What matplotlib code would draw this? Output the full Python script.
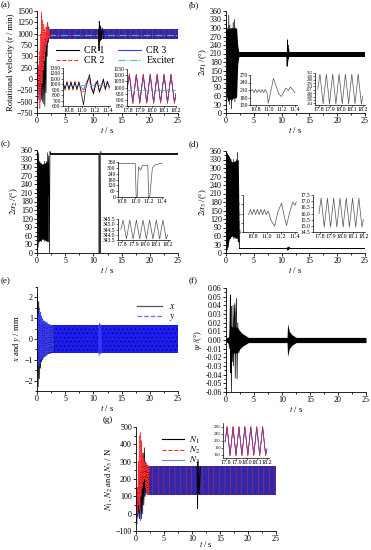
import matplotlib
matplotlib.use("Agg")
import matplotlib.pyplot as plt
from matplotlib.ticker import MultipleLocator, AutoMinorLocator, FormatStrFormatter

plt.rcParams["font.family"] = ["Liberation Serif", "DejaVu Serif"]
plt.rcParams["mathtext.fontset"] = "stix"
plt.rcParams["hatch.linewidth"] = 0.3
plt.rcParams["axes.linewidth"] = 0.6

# ---------------- data ----------------
TRANS_T = [0.0, 0.1, 0.2, 0.3, 0.4, 0.5, 0.6, 0.7, 0.8, 0.9, 1.0, 1.1, 1.2,
           1.3, 1.4, 1.5, 1.6, 1.7, 1.8, 1.9, 2.0, 2.1, 2.2, 2.3, 2.4]
BAND_T = [2.3, 25.0]
SS_T = [17.79, 17.81, 17.839, 17.868, 17.897, 17.926, 17.955, 17.984,
        18.013, 18.042, 18.071, 18.10, 18.129, 18.158, 18.187, 18.2]

# (a) rotational velocity
A_CR1 = [0, 150, -200, 300, -350, 200, -300, 500, -450, 600, -500, 700, -550,
         800, -600, 900, -300, 1050, 500, 1250, 800, 1150, 900, 1080, 950]
A_CR2 = [0, -200, 300, -450, 600, -650, 1000, -300, 1470, -100, 1300, 200, 1200,
         400, 1100, 600, 1150, 750, 1200, 850, 1100, 900, 1080, 920, 1000]
A_CR3 = [0, 200, -300, 250, -400, 450, -500, 700, -350, 900, -200, 850, 0,
         950, 200, 1000, 500, 1100, 700, 1050, 850, 1100, 900, 1050, 950]
A_BAND_LO = [880, 880]
A_BAND_HI = [1110, 1110]
A_EXC_T = [0, 25]
A_EXC = [980, 980]
A_SPK_T = [10.9, 10.95, 11.0, 11.05, 11.1, 11.15, 11.2, 11.3, 11.4, 11.6, 11.8]
A_SPK_CR1 = [1100, 880, 620, 1270, 800, 1180, 850, 1150, 870, 1120, 890]
A_IN1_T = [10.72, 10.75, 10.78, 10.81, 10.84, 10.87, 10.90, 10.93, 10.96, 10.99,
           11.03, 11.06, 11.09, 11.12, 11.15, 11.18, 11.21, 11.24, 11.27, 11.30,
           11.33, 11.36, 11.39, 11.42]
A_IN1_CR1 = [1040, 910, 1040, 910, 1040, 910, 1040, 910, 1040, 880, 620, 900,
             1050, 1180, 950, 820, 980, 1070, 850, 950, 1100, 900, 1060, 940]
A_IN1_CR2 = [1060, 890, 1060, 890, 1060, 890, 1060, 890, 1050, 900, 850, 1000,
             1080, 1050, 900, 880, 1040, 1000, 880, 1000, 1080, 920, 1050, 900]
A_IN1_CR3 = [1010, 930, 1010, 930, 1010, 930, 1010, 930, 1000, 950, 900, 980,
             1060, 1120, 930, 860, 1000, 1040, 870, 970, 1080, 930, 1040, 960]
A_IN2_CR1 = [990, 1105, 875, 1105, 875, 1105, 875, 1105, 875, 1105, 875, 1105, 875, 1105, 875, 950]
A_IN2_CR2 = [990, 1110, 870, 1110, 870, 1110, 870, 1110, 870, 1110, 870, 1110, 870, 1110, 870, 950]
A_IN2_CR3 = [985, 1100, 880, 1100, 880, 1100, 880, 1100, 880, 1100, 880, 1100, 880, 1100, 880, 955]
A_IN_EXC = [980, 980]

# (b) 2 alpha_1
B_TR = [200, 330, 60, 300, 40, 345, 30, 310, 50, 290, 15, 300, 45, 320, 60,
        330, 40, 300, 100, 260, 160, 230, 190, 215, 205]
B_ENV_T = [0.1, 0.3, 1.0, 1.9, 2.1, 2.3]
B_ENV_LO = [60, 45, 50, 55, 170, 198]
B_ENV_HI = [290, 300, 300, 300, 240, 214]
B_BAND_LO = [198, 198]
B_BAND_HI = [214, 214]
B_SPK_T = [10.95, 11.0, 11.05, 11.1, 11.15, 11.2, 11.3, 11.4, 11.5]
B_SPK = [214, 165, 258, 180, 240, 190, 225, 198, 214]
B_IN1_T = [10.72, 10.745, 10.77, 10.795, 10.82, 10.845, 10.87, 10.895, 10.92,
           10.945, 10.97, 10.99, 11.07, 11.15, 11.19, 11.26, 11.30, 11.33, 11.40]
B_IN1 = [205, 212, 200, 212, 200, 212, 200, 212, 200, 212, 200, 157, 256, 195,
         184, 218, 208, 222, 199]
B_IN2 = [255, 308, 202, 308, 202, 308, 202, 308, 202, 308, 202, 308, 202, 308, 202, 230]

# (c) 2 alpha_2
C_TR = [0, 355, 20, 350, 60, 320, 45, 310, 40, 300, 50, 310, 45, 320, 40, 300,
        60, 320, 40, 350, 200, 340, 0, 355, 345]
C_ENV_T = [0.15, 0.3, 1.0, 1.9, 2.0]
C_ENV_LO = [30, 40, 50, 40, 40]
C_ENV_HI = [355, 320, 310, 320, 340]
C_LINE_T = [2.4, 25.0]
C_LINE = [345, 345]
C_SPK_T = [10.98, 11.02, 11.05, 11.1, 11.2, 11.23, 11.3, 11.4]
C_SPK = [345, 0, 345, 330, 0, 345, 355, 345]
C_IN1_T = [10.74, 11.0, 11.015, 11.03, 11.05, 11.08, 11.11, 11.19, 11.205,
           11.22, 11.26, 11.3, 11.41]
C_IN1 = [345, 345, 0, 0, 310, 275, 325, 325, 0, 0, 300, 330, 350]
C_IN2 = [344.5, 345.4, 343.6, 345.4, 343.6, 345.4, 343.6, 345.4, 343.6,
         345.4, 343.6, 345.4, 343.6, 345.4, 343.6, 344.0]

# (d) 2 alpha_3
D_TR = [0, 355, 10, 350, 20, 340, 60, 320, 50, 330, 60, 320, 70, 330, 50, 320,
        60, 300, 50, 330, 80, 355, 40, 100, 16]
D_ENV_T = [0.1, 0.6, 1.0, 2.2, 2.4]
D_ENV_LO = [10, 50, 60, 50, 15]
D_ENV_HI = [355, 340, 320, 330, 18]
D_BAND_LO = [15, 15]
D_BAND_HI = [17.5, 17.5]
D_SPK_T = [10.95, 11.05, 11.15, 11.25, 11.35, 11.5]
D_SPK = [17, 10, 21, 11, 21, 17]
D_IN1_T = [10.74, 10.765, 10.79, 10.815, 10.84, 10.865, 10.89, 10.915, 10.94,
           10.965, 10.99, 11.02, 11.06, 11.11, 11.16, 11.21, 11.24, 11.28,
           11.33, 11.37, 11.40, 11.42]
D_IN1 = [15.5, 17.8, 15.5, 17.8, 15.5, 17.8, 15.5, 17.8, 15.5, 17.8, 15.5,
         17.0, 13.0, 10.5, 17.0, 20.5, 16.0, 10.8, 17.0, 21.0, 19.5, 21.0]
D_IN2 = [16.0, 17.25, 14.9, 17.25, 14.9, 17.25, 14.9, 17.25, 14.9, 17.25,
         14.9, 17.25, 14.9, 17.25, 14.9, 15.5]

# (e) x and y
E_TR_T = [0.0, 0.1, 0.2, 0.3, 0.4, 0.5, 0.6, 0.7, 0.8, 0.9, 1.0, 1.1, 1.2, 1.3,
          1.4, 1.5, 1.6, 1.7, 1.8, 1.9, 2.0, 2.1, 2.2, 2.3, 2.4, 2.5, 2.6, 2.7,
          2.8, 2.9, 3.0]
E_X = [0, 2.2, -2.3, 1.8, -1.9, 1.2, -1.4, 1.0, -1.1, 0.9, -1.0, 0.85, -0.9,
       0.8, -0.85, 0.75, -0.8, 0.75, -0.75, 0.7, -0.7, 0.7, -0.7, 0.68, -0.68,
       0.66, -0.66, 0.65, -0.65, 0.65, -0.65]
E_Y = [0, -1.0, 1.2, -1.3, 1.5, -1.2, 1.3, -1.0, 1.1, -0.95, 1.0, -0.9, 0.9,
       -0.85, 0.85, -0.8, 0.8, -0.75, 0.78, -0.72, 0.72, -0.7, 0.7, -0.68, 0.68,
       -0.66, 0.66, -0.65, 0.65, -0.65, 0.65]
E_BAND_T = [0.1, 25.0]
E_BAND_LO = [-0.65, -0.65]
E_BAND_HI = [0.65, 0.65]
E_SPK_T = [10.9, 11.0, 11.1, 11.2, 11.3, 11.5]
E_SPK = [0.65, -0.78, 0.75, -0.72, 0.7, -0.66]

# (f) psi
F_TR_T = [0.5, 0.6, 0.7, 0.78, 0.85, 0.9, 0.96, 1.05, 1.15, 1.26, 1.35, 1.45,
          1.56, 1.65, 1.75, 1.86, 1.98, 2.1, 2.3, 2.5]
F_TR = [0, -0.01, 0.02, 0.052, -0.038, 0.039, -0.06, 0.015, -0.025, 0.04,
        -0.03, 0.025, 0.042, -0.044, 0.03, 0.048, -0.045, 0.02, -0.015, 0.01]
F_ENV_T = [0.0, 0.5, 0.8, 1.2, 2.0, 2.5, 3.0, 4.0, 25.0]
F_ENV_HI = [0.002, 0.004, 0.015, 0.015, 0.015, 0.01, 0.007, 0.003, 0.003]
F_ENV_LO = [-0.002, -0.004, -0.015, -0.015, -0.015, -0.01, -0.007, -0.003, -0.003]
F_SPK_T = [10.9, 11.0, 11.3, 11.8, 12.5]
F_SPK_HI = [0.003, 0.019, 0.01, 0.006, 0.003]
F_SPK_LO = [-0.003, -0.019, -0.01, -0.006, -0.003]

# (g) N1, N2, N3
G_N1 = [40, 100, -20, 150, 0, 200, -30, 250, 20, 300, -30, 330, 0, 350, 50,
        380, 100, 300, 120, 290, 110, 280, 110, 275, 120]
G_N2 = [50, -40, 150, 0, 300, 50, 450, 20, 470, 100, 420, 150, 350, 180, 320,
        200, 300, 150, 290, 120, 280, 115, 275, 110, 275]
G_N3 = [30, 80, -60, 120, -20, 180, 0, 220, -40, 250, 0, 280, 50, 320, 80,
        350, 100, 290, 110, 280, 115, 275, 110, 270, 120]
G_BAND_LO = [110, 110]
G_BAND_HI = [275, 275]
G_SPK_T = [10.9, 10.95, 11.0, 11.05, 11.1, 11.2, 11.3, 11.5]
G_SPK_N1 = [275, 110, 30, 300, 120, 270, 115, 270]
G_IN_N1 = [195, 278, 115, 278, 115, 278, 115, 278, 115, 278, 115, 278, 115, 278, 115, 150]
G_IN_N2 = [195, 280, 112, 280, 112, 280, 112, 280, 112, 280, 112, 280, 112, 280, 112, 150]
G_IN_N3 = [190, 276, 118, 276, 118, 276, 118, 276, 118, 276, 118, 276, 118, 276, 118, 152]

BLACK = "black"
RED = "#ff2a2a"
BLUE = "#3a3aff"
CYAN = "#3fbfbf"
GREY = "#555555"
TICK_FS = 5.8
LABEL_FS = 6.2

W, H = 371, 550
fig = plt.figure(figsize=(W / 100, H / 100), dpi=100)


def rect(x0, y0, x1, y1):
    return [x0 / W, 1 - y1 / H, (x1 - x0) / W, (y1 - y0) / H]


def main_axes(x0, y0, x1, y1, ylim, ystep, ylabel, fmt=None):
    ax = fig.add_axes(rect(x0, y0, x1, y1))
    ax.set_xlim(0, 25)
    ax.set_ylim(*ylim)
    ax.xaxis.set_major_locator(MultipleLocator(5))
    ax.xaxis.set_minor_locator(AutoMinorLocator(2))
    ax.yaxis.set_major_locator(MultipleLocator(ystep))
    ax.yaxis.set_minor_locator(AutoMinorLocator(2))
    if fmt:
        ax.yaxis.set_major_formatter(FormatStrFormatter(fmt))
    for s in ("top", "right"):
        ax.spines[s].set_visible(False)
    ax.tick_params(which="both", direction="out", labelsize=TICK_FS, width=0.6, pad=0.8)
    ax.tick_params(which="major", length=2.2)
    ax.tick_params(which="minor", length=1.2)
    ax.set_xlabel(r"$t$ / s", fontsize=LABEL_FS, labelpad=0)
    ax.set_ylabel(ylabel, fontsize=LABEL_FS, labelpad=1)
    return ax


def inset_axes(x0, y0, x1, y1, xlim, ylim, xstep, ystep, fmt_x, fmt_y, ysize=4.0):
    ax = fig.add_axes(rect(x0, y0, x1, y1))
    ax.patch.set_alpha(0)
    ax.set_xlim(*xlim)
    ax.set_ylim(*ylim)
    ax.xaxis.set_major_locator(MultipleLocator(xstep))
    ax.yaxis.set_major_locator(MultipleLocator(ystep))
    ax.xaxis.set_major_formatter(FormatStrFormatter(fmt_x))
    ax.yaxis.set_major_formatter(FormatStrFormatter(fmt_y))
    for s in ("top", "right"):
        ax.spines[s].set_visible(False)
    for s in ("left", "bottom"):
        ax.spines[s].set_linewidth(0.5)
    ax.tick_params(which="both", direction="out", length=1.2, width=0.4, pad=0.5)
    ax.tick_params(axis="x", labelsize=4.3)
    ax.tick_params(axis="y", labelsize=ysize)
    return ax


def panel_label(x, y, s):
    fig.text(x / W, 1 - y / H, s, fontsize=6.5, va="top", ha="left")


# ---------------- (a) ----------------
ax = main_axes(37, 11, 178, 113, (-750, 1500), 250, "Rotational velocity (r / min)")
ax.fill_between(BAND_T, A_BAND_LO, A_BAND_HI, facecolor="#3326aa", edgecolor="#e03040",
                hatch="|||", lw=0)
ax.plot(A_EXC_T, A_EXC, color=CYAN, lw=0.8, ls="-.")
ax.plot(TRANS_T, A_CR3, color=BLUE, lw=0.5)
ax.plot(TRANS_T, A_CR1, color=BLACK, lw=0.5)
ax.plot(TRANS_T, A_CR2, color=RED, lw=0.6, ls="--", dashes=(2, 1))
ax.plot(A_SPK_T, A_SPK_CR1, color=BLACK, lw=0.6)
l1, = ax.plot([], [], color=BLACK, lw=0.8)
l2, = ax.plot([], [], color=RED, lw=0.8, ls="--")
l3, = ax.plot([], [], color=BLUE, lw=0.8)
l4, = ax.plot([], [], color=CYAN, lw=0.8, ls="-.")
ax.legend([l1, l2, l3, l4], ["CR 1", "CR 2", "CR 3", "Exciter"], ncol=2,
          frameon=False, fontsize=7, loc="upper left", bbox_to_anchor=(0.1, 0.7),
          handlelength=2.4, handletextpad=0.5, columnspacing=1.4, labelspacing=0.05,
          borderpad=0)

ia = inset_axes(63, 68, 110, 106, (10.72, 11.43), (600, 1300), 0.2, 100, "%.1f", "%d")
ia.plot(A_IN1_T, A_IN1_CR3, color=BLUE, lw=0.5)
ia.plot(A_IN1_T, A_IN1_CR2, color=RED, lw=0.5, ls="--", dashes=(2, 1))
ia.plot(A_IN1_T, A_IN1_CR1, color=BLACK, lw=0.5)
ia.plot([10.72, 11.43], A_IN_EXC, color=CYAN, lw=0.6, ls="-.")

ia = inset_axes(127, 69, 176, 106, (17.79, 18.2), (850, 1150), 0.1, 50, "%.1f", "%d")
ia.plot(SS_T, A_IN2_CR1, color=BLACK, lw=0.5)
ia.plot(SS_T, A_IN2_CR3, color=BLUE, lw=0.5)
ia.plot(SS_T, A_IN2_CR2, color=RED, lw=0.5, ls="--", dashes=(2, 1))
ia.plot([17.79, 18.2], A_IN_EXC, color=CYAN, lw=0.6, ls="-.")
panel_label(1, 1, "(a)")

# ---------------- (b) ----------------
ax = main_axes(226, 11, 365, 113, (0, 360), 30, r"$2\alpha_1$ /(°)")
ax.fill_between(B_ENV_T, B_ENV_LO, B_ENV_HI, color=BLACK, lw=0)
ax.plot(TRANS_T, B_TR, color=BLACK, lw=0.5)
ax.fill_between(BAND_T, B_BAND_LO, B_BAND_HI, color=BLACK, lw=0)
ax.plot(B_SPK_T, B_SPK, color=BLACK, lw=0.6)

ia = inset_axes(250, 75, 297, 105, (10.71, 11.43), (150, 270), 0.2, 30, "%.1f", "%d")
ia.plot(B_IN1_T, B_IN1, color=GREY, lw=0.5)
ia = inset_axes(315, 73, 365, 105, (17.765, 18.22), (198, 312), 0.1, 12, "%.1f", "%d", ysize=3.0)
ia.plot(SS_T, B_IN2, color=GREY, lw=0.5)
panel_label(189, 1, "(b)")

# ---------------- (c) ----------------
ax = main_axes(37, 150, 178, 253, (0, 360), 30, r"$2\alpha_2$ /(°)")
ax.fill_between(C_ENV_T, C_ENV_LO, C_ENV_HI, color=BLACK, lw=0)
ax.plot(TRANS_T, C_TR, color=BLACK, lw=0.5)
ax.plot(C_LINE_T, C_LINE, color=BLACK, lw=1.3)
ax.plot(C_SPK_T, C_SPK, color="#333333", lw=0.6)

ia = inset_axes(118, 162, 163, 197, (10.74, 11.42), (0, 360), 0.2, 60, "%.1f", "%d")
ia.plot(C_IN1_T, C_IN1, color=GREY, lw=0.5)
ia = inset_axes(118, 219, 170, 240, (17.765, 18.22), (343.5, 345.5), 0.1, 0.5, "%.1f", "%.1f")
ia.plot(SS_T, C_IN2, color=GREY, lw=0.5)
panel_label(1, 140, "(c)")

# ---------------- (d) ----------------
ax = main_axes(226, 151, 365, 253, (0, 360), 30, r"$2\alpha_3$ /(°)")
ax.fill_between(D_ENV_T, D_ENV_LO, D_ENV_HI, color=BLACK, lw=0)
ax.plot(TRANS_T, D_TR, color=BLACK, lw=0.5)
ax.fill_between([2.4, 25.0], D_BAND_LO, D_BAND_HI, color=BLACK, lw=0)
ax.plot(D_SPK_T, D_SPK, color=BLACK, lw=0.6)

ia = inset_axes(243, 195, 297, 232, (10.66, 11.43), (8, 24), 0.2, 4, "%.1f", "%d")
ia.plot(D_IN1_T, D_IN1, color=GREY, lw=0.5)
ia = inset_axes(313, 195, 365, 232, (17.735, 18.215), (14.5, 17.5), 0.1, 0.5, "%.1f", "%.1f")
ia.plot(SS_T, D_IN2, color=GREY, lw=0.5)
panel_label(189, 140, "(d)")

# ---------------- (e) ----------------
ax = main_axes(37, 287, 178, 391, (-2.5, 2.5), 1, r"$x$ and $y$ / mm")
ax.fill_between(E_BAND_T, E_BAND_LO, E_BAND_HI, facecolor="#1c1cf0", edgecolor="#000040",
                hatch="....", lw=0)
ax.plot(E_TR_T, E_X, color=BLACK, lw=0.6)
ax.plot(E_TR_T, E_Y, color=BLUE, lw=0.6, ls="--", dashes=(2, 1))
ax.plot(E_SPK_T, E_SPK, color=BLUE, lw=0.6)
lx, = ax.plot([], [], color=GREY, lw=0.9)
ly, = ax.plot([], [], color="#6a6aff", lw=0.9, ls="--")
ax.legend([lx, ly], [r"$x$", r"$y$"], frameon=False, fontsize=7, loc="upper right",
          bbox_to_anchor=(1.02, 0.9), handlelength=2.5, labelspacing=0.1, borderpad=0)
panel_label(1, 277, "(e)")

# ---------------- (f) ----------------
ax = main_axes(226, 288, 366, 392, (-0.06, 0.06), 0.01, r"$\psi$ /(°)", fmt="%.2f")
ax.fill_between(F_ENV_T, F_ENV_LO, F_ENV_HI, color=BLACK, lw=0)
ax.plot(F_TR_T, F_TR, color=BLACK, lw=0.5)
ax.fill_between(F_SPK_T, F_SPK_LO, F_SPK_HI, color=BLACK, lw=0)
panel_label(189, 277, "(f)")

# ---------------- (g) ----------------
ax = main_axes(136, 427, 276, 531, (-100, 500), 100, r"$N_1$, $N_2$ and $N_3$ / N")
ax.set_xlabel(r"$t$ / s", fontsize=6)
ax.xaxis.set_label_coords(0.5, -0.075)
ax.fill_between(BAND_T, G_BAND_LO, G_BAND_HI, facecolor="#3326aa", edgecolor="#e03040",
                hatch="|||", lw=0)
ax.plot(TRANS_T, G_N3, color=BLUE, lw=0.5)
ax.plot(TRANS_T, G_N1, color=BLACK, lw=0.5)
ax.plot(TRANS_T, G_N2, color=RED, lw=0.6, ls="--", dashes=(2, 1))
ax.plot(G_SPK_T, G_SPK_N1, color=BLACK, lw=0.6)
m1, = ax.plot([], [], color=BLACK, lw=0.8)
m2, = ax.plot([], [], color=RED, lw=0.8, ls="--")
m3, = ax.plot([], [], color="#8080ff", lw=0.8)
ax.legend([m1, m2, m3], [r"$N_1$", r"$N_2$", r"$N_3$"], frameon=False, fontsize=6.5,
          loc="upper left", bbox_to_anchor=(0.15, 0.97), handlelength=2.5,
          labelspacing=-0.1, borderpad=0, handletextpad=0.5)

ia = inset_axes(223, 423, 269, 458, (17.77, 18.22), (100, 300), 0.1, 40, "%.1f", "%d", ysize=3.2)
ia.plot(SS_T, G_IN_N1, color=BLACK, lw=0.4)
ia.plot(SS_T, G_IN_N3, color=BLUE, lw=0.5)
ia.plot(SS_T, G_IN_N2, color=RED, lw=0.5, ls="--", dashes=(2, 1))
panel_label(103, 416, "(g)")

fig.savefig("out.png", dpi=100)
